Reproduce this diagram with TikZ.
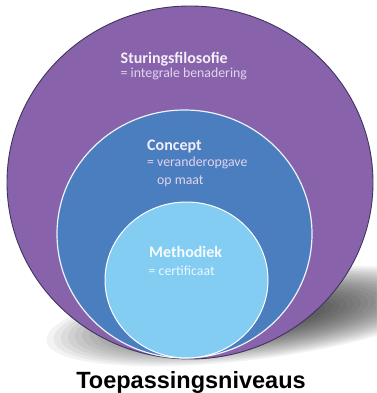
\documentclass[tikz,border=0pt]{standalone}
\usepackage{fontspec}
\setmainfont{Carlito}
\newfontfamily\arialfont{Liberation Sans}
\usetikzlibrary{shapes.geometric}
\definecolor{purp}{HTML}{8863AB}
\definecolor{midblue}{HTML}{4A7EBE}
\definecolor{lightblue}{HTML}{82CDF1}
\definecolor{rim}{HTML}{3E3560}
\definecolor{txtA}{HTML}{F4EEF8}
\definecolor{txtB}{HTML}{E2D3EE}
\tikzset{
  disc/.style={ellipse, inner sep=0pt, outer sep=0pt},
  head/.style={font=\bfseries\fontsize{16}{18}\selectfont, text=txtA, anchor=base west, inner sep=0pt},
  sub/.style={font=\fontsize{13.8}{16}\selectfont, text=txtB, anchor=base west, inner sep=0pt, align=left},
}
\begin{document}
\begin{tikzpicture}[x=1pt,y=-1pt]
\useasboundingbox[fill=white] (0,0) rectangle (376,393);
% soft shadow
\begin{scope}[rotate around={7:(250,316)}]
\foreach \s in {1.00,0.965,0.93,0.895,0.86,0.825,0.79,0.755,0.72,0.685,0.65,0.615,0.58,0.545,0.51,0.475,0.44,0.405,0.37,0.335}{
  \fill[black, opacity=0.047] (250,316) ellipse [x radius=\s*205pt, y radius=\s*44pt];
}
\end{scope}
\node[disc, minimum width=366pt, minimum height=353pt, fill=purp, draw=rim, line width=0.9pt] (outer) at (190,182.5) {};
\node[disc, minimum width=255pt, minimum height=248pt, fill=midblue, draw=white!90!midblue, line width=1.2pt] (middle) at (184.5,234) {};
\node[disc, minimum width=163pt, minimum height=156pt, fill=lightblue, draw=white, line width=1pt] (inner) at (186.5,280) {};
% texts
\node[head] (t1) at (120.5,63.5) {Sturingsfilosofie};
\node[sub] (s1) at (120.5,78) {= integrale benadering};
\node[head] (t2) at (147,150) {Concept};
\node[sub] (s2) at (147,166.5) {= veranderopgave};
\node[sub] (s2b) at (157,184.5) {op maat};
\node[head, text=white!92!lightblue] (t3) at (149,257) {Methodiek};
\node[sub, text=white!85!lightblue] (s3) at (148.5,275) {= certificaat};
\node[font=\arialfont\bfseries\fontsize{23.5}{26}\selectfont, anchor=base, inner sep=0pt] (title) at (191,388) {Toepassingsniveaus};
\end{tikzpicture}
\end{document}
